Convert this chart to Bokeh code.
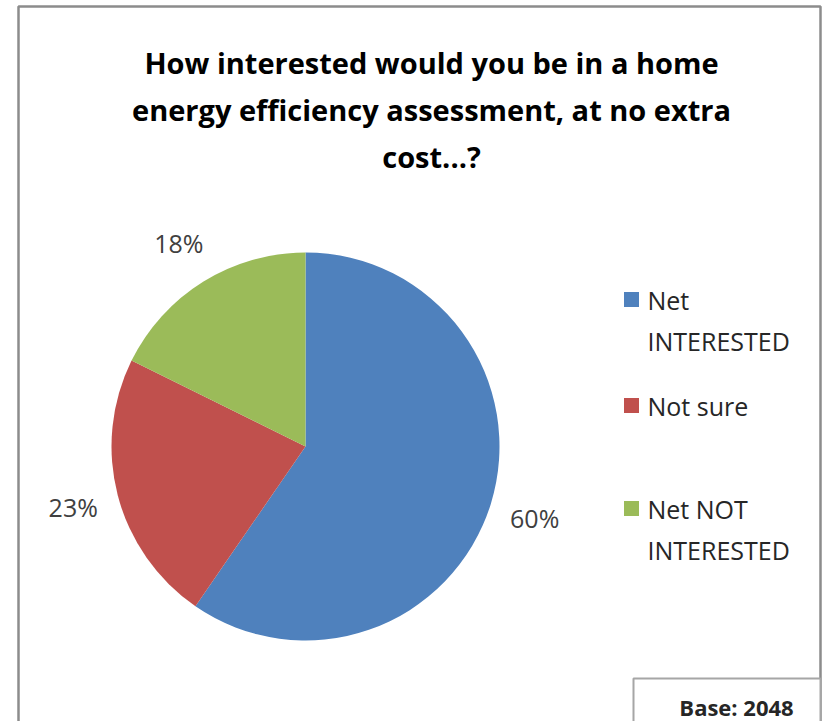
import math
from bokeh.plotting import figure
from bokeh.models import Range1d
from bokeh.core.properties import value
from bokeh.embed import file_html
from bokeh.resources import INLINE

categories = ["Net INTERESTED", "Not sure", "Net NOT INTERESTED"]
legend_lines = [["Net", "INTERESTED"], ["Not sure"], ["Net NOT", "INTERESTED"]]
values = [59.6, 22.7, 17.7]
colors = ["#4F81BD", "#C0504D", "#9BBB59"]
title_lines = ["How interested would you be in a home",
               "energy efficiency assessment, at no extra",
               "cost...?"]
base_text = "Base: 2048"

W, H = 823, 721
FONT = "Open Sans"
p = figure(width=W, height=H, x_range=Range1d(0, W), y_range=Range1d(0, H),
           output_backend="svg", toolbar_location=None, min_border=0)
p.axis.visible = False
p.grid.visible = False
p.outline_line_color = None
p.background_fill_color = "white"
p.border_fill_color = "white"

def Y(y):
    return H - y

# outer frame
p.multi_line(xs=[[18, 18, 820, 820]], ys=[[Y(740), Y(6), Y(6), Y(740)]],
             line_color="#8c8c8c", line_width=2.5)

# title
for i, t in enumerate(title_lines):
    p.text(x=[431], y=[Y(62 + 47 * i)], text=[t], text_align="center",
           text_baseline="middle", text_font=value(FONT), text_font_style="bold",
           text_font_size="29px", text_color="#000000")

# pie
cx, cy, r = 305, Y(446), 194
total = sum(values)
cum = 0.0
starts, ends, mids = [], [], []
for v in values:
    a0 = math.pi / 2 - 2 * math.pi * cum / total
    cum += v
    a1 = math.pi / 2 - 2 * math.pi * cum / total
    starts.append(a0)
    ends.append(a1)
    mids.append((a0 + a1) / 2)
p.wedge(x=[cx] * 3, y=[cy] * 3, radius=r, start_angle=starts, end_angle=ends,
        direction="clock", fill_color=colors, line_color=None)

# percentage labels
lr = 240
for v, m in zip(values, mids):
    p.text(x=[cx + lr * math.cos(m)], y=[cy + lr * math.sin(m)],
           text=[f"{round(v)}%"], text_align="center", text_baseline="middle",
           text_font=value(FONT), text_font_size="25px", text_color="#404040")

# legend
leg_y = [299, 405, 508]
for lines, c, yy in zip(legend_lines, colors, leg_y):
    p.rect(x=[631], y=[Y(yy)], width=15, height=15, fill_color=c, line_color=None)
    for j, t in enumerate(lines):
        p.text(x=[647], y=[Y(yy + 41 * j)], text=[t], text_align="left",
               text_baseline="middle", text_font=value(FONT),
               text_font_size="25px", text_color="#262626")

# base box
p.quad(left=[633], right=[820], top=[Y(678)], bottom=[Y(740)],
       fill_color="white", line_color="#a6a6a6", line_width=2)
p.text(x=[736], y=[Y(706)], text=[base_text], text_align="center",
       text_baseline="middle", text_font=value(FONT), text_font_style="bold",
       text_font_size="22px", text_color="#262626")

open("out.html", "w").write(file_html(p, INLINE))
